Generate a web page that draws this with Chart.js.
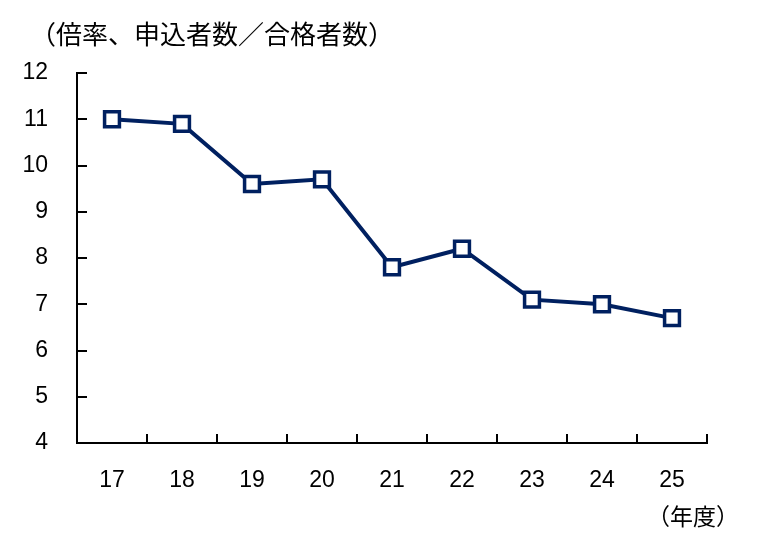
<!DOCTYPE html>
<html><head><meta charset="utf-8">
<script src="https://cdn.jsdelivr.net/npm/chart.js@4.4.1/dist/chart.umd.min.js"></script>
<style>html,body{margin:0;padding:0;background:#fff}#wrap{width:768px;height:551px;position:relative}</style>
</head><body><div id="wrap"><canvas id="c" width="768" height="551"></canvas></div>
<script>
const categories = ['17','18','19','20','21','22','23','24','25'];
const ratios = [11.0, 10.9, 9.6, 9.7, 7.8, 8.2, 7.1, 7.0, 6.7];
const yTicks = [4,5,6,7,8,9,10,11,12];
const unitLabel = '（倍率、申込者数／合格者数）';
const xUnitLabel = '（年度）';

const NAVY = '#002060';
const CJK = "'Noto Sans CJK JP', sans-serif";
const NUM = "'Liberation Sans', Arial, sans-serif";

const extras = {
  id: 'extras',
  afterDraw(chart) {
    const ctx = chart.ctx;
    const xs = chart.scales.x, ys = chart.scales.y;
    ctx.save();
    ctx.strokeStyle = '#000';
    ctx.lineWidth = 2;
    yTicks.forEach(v => {
      const y = Math.round(ys.getPixelForValue(v));
      ctx.beginPath(); ctx.moveTo(xs.left, y); ctx.lineTo(xs.left + 10, y); ctx.stroke();
    });
    const n = categories.length;
    for (let i = 1; i <= n; i++) {
      const x = Math.round(xs.left + (xs.right - xs.left) * i / n);
      ctx.beginPath(); ctx.moveTo(x, ys.bottom); ctx.lineTo(x, ys.bottom - 9); ctx.stroke();
    }
    ctx.fillStyle = '#000';
    ctx.textBaseline = 'middle';
    ctx.textAlign = 'left';
    ctx.font = "26px " + CJK;
    ctx.fillText(unitLabel, 30, 34);
    ctx.font = "23px " + CJK;
    ctx.fillText(xUnitLabel, 647, 516);
    ctx.restore();
  }
};

new Chart(document.getElementById('c'), {
  type: 'line',
  data: {
    labels: categories,
    datasets: [{
      data: ratios,
      borderColor: NAVY,
      borderWidth: 4,
      pointStyle: 'rect',
      pointRadius: 10.5,
      pointHoverRadius: 10.5,
      pointBackgroundColor: '#fff',
      pointBorderColor: NAVY,
      pointBorderWidth: 3.5,
      tension: 0
    }]
  },
  options: {
    responsive: false,
    animation: false,
    devicePixelRatio: 1,
    layout: { padding: { left: 0, right: 61, top: 73, bottom: 0 } },
    plugins: { legend: { display: false }, tooltip: { enabled: false }, title: { display: false } },
    scales: {
      x: {
        offset: true,
        grid: { display: true, drawOnChartArea: false, drawTicks: false, offset: true },
        border: { display: true, color: '#000', width: 2 },
        ticks: { color: '#000', padding: 24, font: { family: NUM, size: 23 }, maxRotation: 0 },
        afterFit(s) { s.height = 551 - 443; }
      },
      y: {
        min: 4, max: 12,
        grid: { display: true, drawOnChartArea: false, drawTicks: false },
        border: { display: true, color: '#000', width: 2 },
        ticks: { color: '#000', stepSize: 1, padding: 29, font: { family: NUM, size: 23 },
          callback: v => yTicks.includes(v) ? String(v) : '' },
        afterFit(s) { s.width = 77; }
      }
    }
  },
  plugins: [extras]
});
</script></body></html>
